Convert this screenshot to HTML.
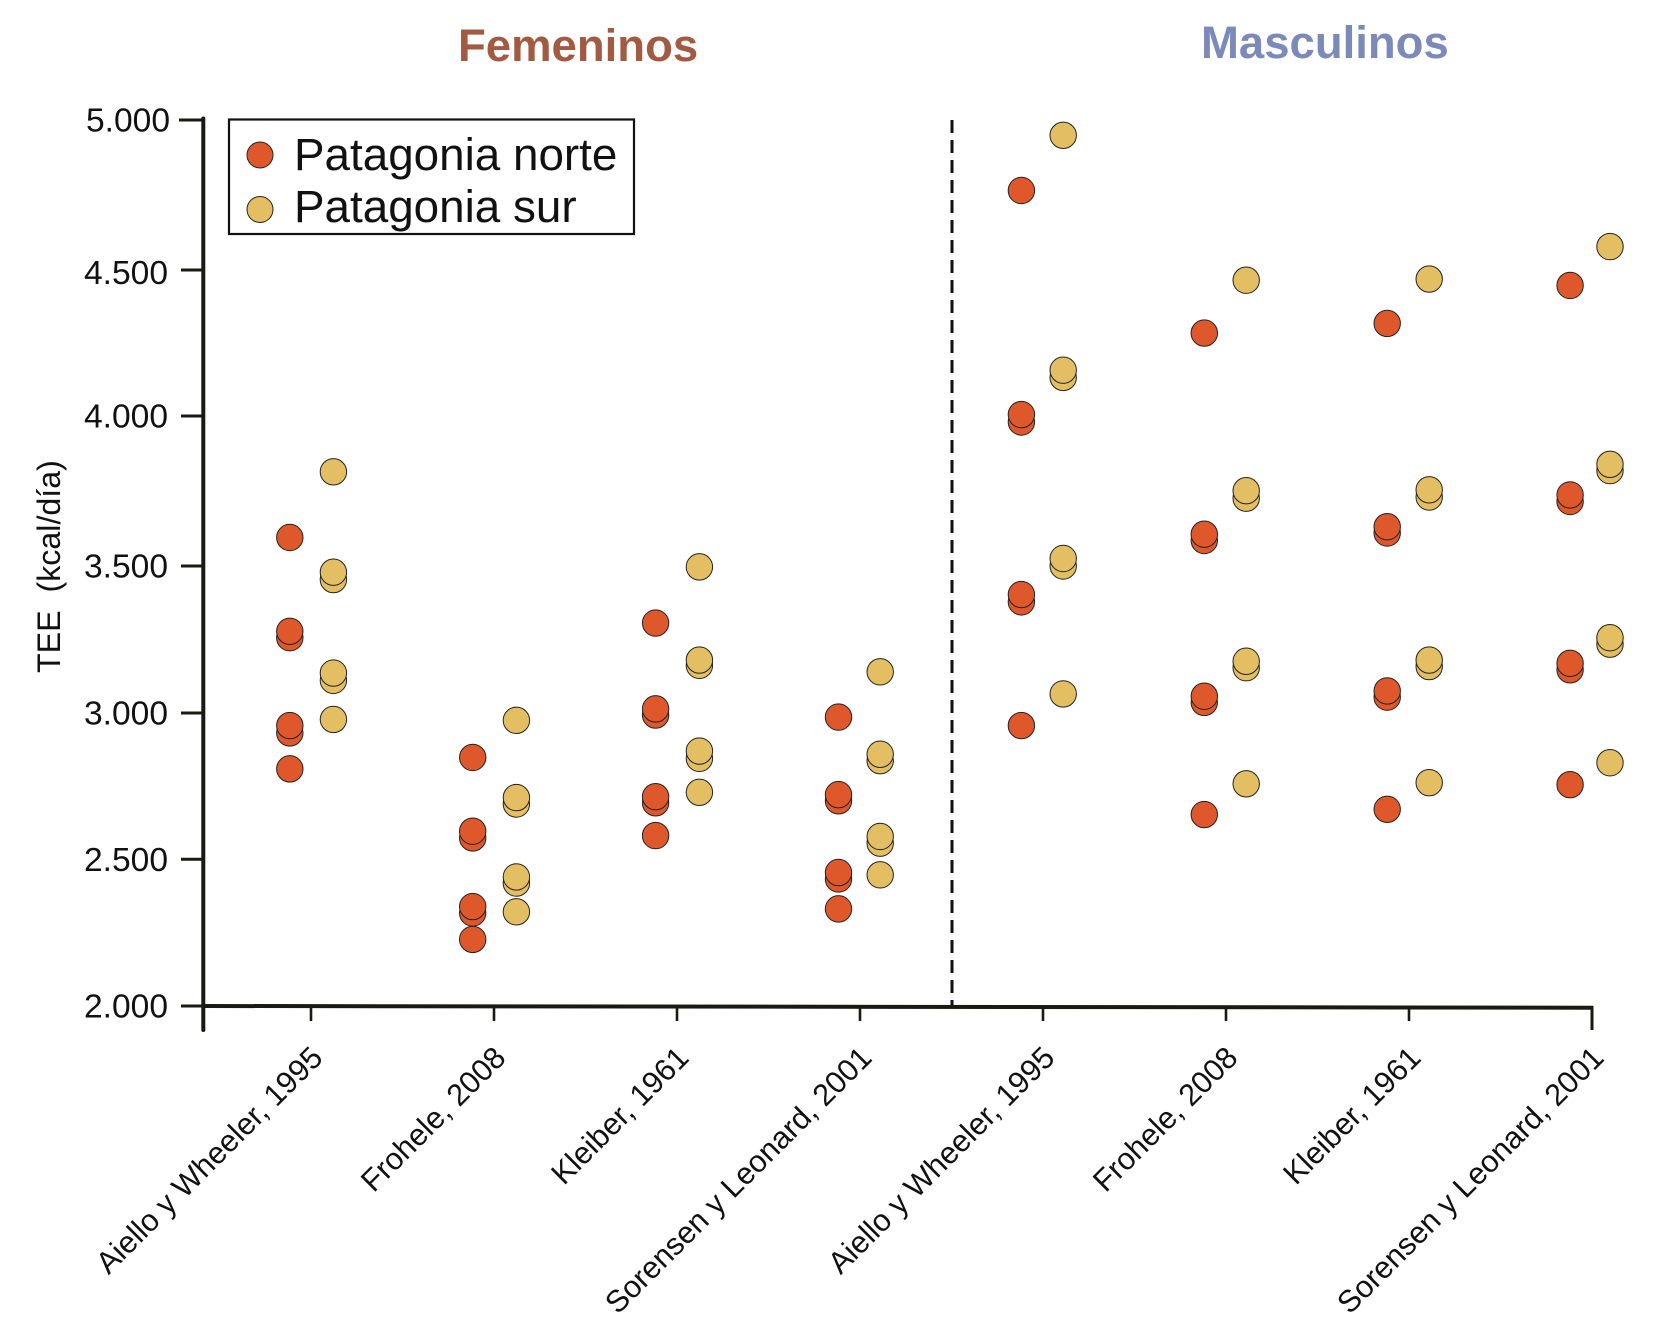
<!DOCTYPE html>
<html lang="es">
<head>
<meta charset="utf-8">
<title>TEE por sexo y ecuación</title>
<style>
html,body{margin:0;padding:0;background:#fff;}
svg{display:block;}
text{font-family:"Liberation Sans",sans-serif;fill:#111;}
</style>
</head>
<body>
<svg id="chart" xmlns="http://www.w3.org/2000/svg" width="1659" height="1334" viewBox="0 0 1659 1334">
  <rect x="0" y="0" width="1659" height="1334" fill="#ffffff"/>
  <text x="458" y="61" font-size="45.5" font-weight="700" style="fill:#A25A43">Femeninos</text>
  <text x="1201" y="58" font-size="45.5" font-weight="700" style="fill:#7C8ABA">Masculinos</text>
  <text transform="translate(60,673) rotate(-90)" font-size="32.2" xml:space="preserve">TEE  (kcal/día)</text>
  <line x1="952" y1="120" x2="952" y2="1006" stroke="#111" stroke-width="3" stroke-dasharray="13 7"/>
  <g id="axes"></g>
  <g id="marks"></g>
  <g>
    <rect x="229" y="119.5" width="405" height="114.5" fill="#fff" stroke="#111" stroke-width="2.2"/>
    <circle cx="260" cy="155" r="13" fill="#DE582B" stroke="#222" stroke-width="1"/>
    <text x="294" y="170" font-size="45.8">Patagonia norte</text>
    <circle cx="260" cy="209.5" r="13" fill="#E3BE62" stroke="#222" stroke-width="1"/>
    <text x="294" y="222" font-size="45.8">Patagonia sur</text>
  </g>
</svg>
<script>
const categories = ["Aiello y Wheeler, 1995","Frohele, 2008","Kleiber, 1961","Sorensen y Leonard, 2001","Aiello y Wheeler, 1995","Frohele, 2008","Kleiber, 1961","Sorensen y Leonard, 2001"];
const yTicks = [2000,2500,3000,3500,4000,4500,5000];
const yTickLabels = ["2.000","2.500","3.000","3.500","4.000","4.500","5.000"];
const norteValues = [
  [3595,3278,3256,2957,2932,2809],
  [2848,2596,2573,2339,2317,2227],
  [3306,3014,2993,2714,2693,2581],
  [2986,2721,2700,2455,2433,2331],
  [4765,4005,3980,3403,3378,2957],
  [4284,3606,3585,3057,3036,2653],
  [4317,3631,3610,3075,3054,2671],
  [4447,3737,3715,3169,3147,2755]
];
const surValues = [
  [3814,3479,3454,3136,3111,2978],
  [2975,2711,2689,2440,2419,2321],
  [3497,3180,3162,2870,2845,2729],
  [3140,2859,2837,2578,2555,2447],
  [4949,4157,4132,3525,3500,3065],
  [4465,3751,3726,3176,3154,2758],
  [4469,3754,3730,3180,3158,2762],
  [4578,3839,3818,3256,3234,2830]
];

function yScale(v){
  const dom = [2000,2500,3000,3500,4000,4500,5000];
  const rng = [1006,859.3,713,566,416,270,120];
  let k = 0;
  while(k < dom.length-2 && v > dom[k+1]){ k++; }
  return rng[k] + (v-dom[k])*(rng[k+1]-rng[k])/(dom[k+1]-dom[k]);
}
function xTick(i){ return 311 + i*183; }
function xNorte(i){ return 289.8 + i*182.9; }
function xSur(i){
  const off = i < 3 ? 22.4 : (i < 7 ? 20.2 : 18);
  return xTick(i) + off;
}

const NS = "http://www.w3.org/2000/svg";
const axes = document.getElementById("axes");
const marks = document.getElementById("marks");
function svgEl(tag, props){
  const el = document.createElementNS(NS, tag);
  for(const k in props){ el.setAttribute(k, props[k]); }
  return el;
}

const yAxis = svgEl("line",{x1:203.3,y1:118.5,x2:203.3,y2:1030,stroke:"#1a1a14","stroke-width":4,"stroke-linecap":"round"});


axes.appendChild(yAxis);

const xAxis = svgEl("line",{x1:203,y1:1006,x2:1593,y2:1007.7,stroke:"#1a1a14","stroke-width":4});


axes.appendChild(xAxis);

const xEnd = svgEl("line",{x1:1592,y1:1006,x2:1592,y2:1030,stroke:"#1a1a14","stroke-width":3});


axes.appendChild(xEnd);

yTicks.forEach(function(v,i){
  const y = yScale(v);
  const t = svgEl("line",{x1:v===5000?179:181,y1:y,x2:203.3,y2:y,stroke:"#1a1a14","stroke-width":3});
  
  
  axes.appendChild(t);
  const l = svgEl("text",{x:v===5000?170:168,y:y+(v===4500?14:11.5),"text-anchor":"end","font-size":33.6});
  
  
  l.textContent = yTickLabels[i];
  axes.appendChild(l);
});

categories.forEach(function(c,i){
  const x = xTick(i);
  const t = svgEl("line",{x1:x,y1:1006,x2:x,y2:1021,stroke:"#1a1a14","stroke-width":2.6});
  
  
  axes.appendChild(t);
  const l = svgEl("text",{transform:"translate("+(x+13.5)+",1059.5) rotate(-45)","text-anchor":"end","font-size":30.7});
  
  
  l.textContent = c;
  axes.appendChild(l);
});

function drawSeries(values, xFn, fill, seriesName){
  values.forEach(function(group,i){
    group.slice().sort(function(a,b){return a-b;}).forEach(function(v){
      const c = svgEl("circle",{cx:xFn(i),cy:yScale(v),r:13.2,fill:fill,stroke:"#222","stroke-width":1});
      
      
      marks.appendChild(c);
    });
  });
}
drawSeries(norteValues, xNorte, "#DE582B", "point-patagonia-norte");
drawSeries(surValues, xSur, "#E3BE62", "point-patagonia-sur");
</script>
</body>
</html>
